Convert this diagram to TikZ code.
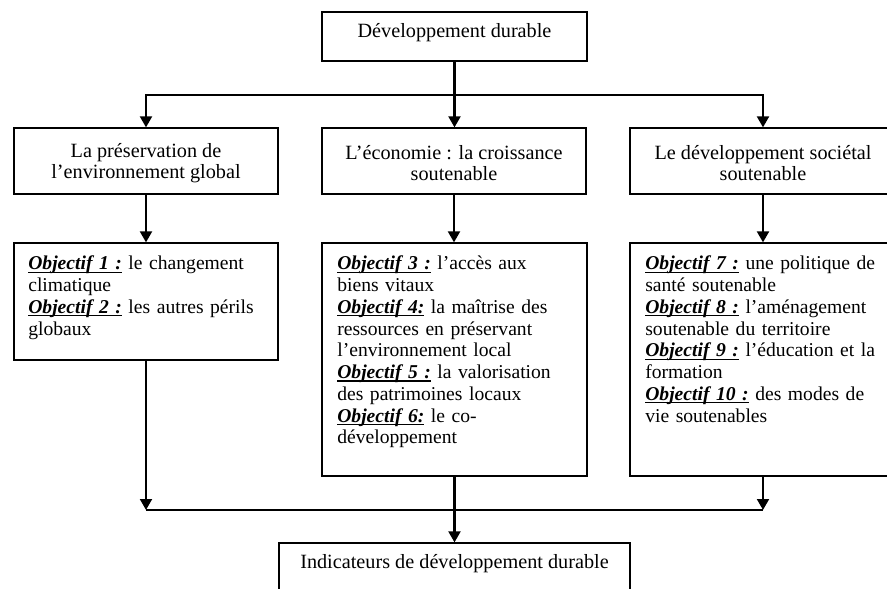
\documentclass[tikz,border=0pt]{standalone}
\usepackage{fontspec}
\setmainfont{Liberation Serif}
\usetikzlibrary{arrows.meta,fit}
\newcommand{\objl}[1]{\leavevmode{\setbox0\hbox{\textbf{\textit{#1}}}\rlap{\rule[-1.9pt]{\wd0}{0.85pt}}\box0}}
\begin{document}
\begin{tikzpicture}[x=0.6375pt,y=-0.6375pt,
  box/.style={draw=black,line width=0.75pt,inner sep=0pt,rectangle},
  txt/.style={font=\fontsize{12.9}{13.6}\selectfont,inner sep=0pt},
  headtxt/.style={txt,align=center},
  objtxt/.style={font=\fontsize{12.5}{13.85}\selectfont,inner sep=0pt,align=left,anchor=base west,text width=200pt},
  link/.style={line width=1.6pt,line cap=rect},
  arr/.style={line width=1.6pt,-{Triangle[width=7.5pt,length=7pt]}},
  thinlink/.style={line width=0.85pt}]
\useasboundingbox (0,0) rectangle (887,589);
\clip (0,0) rectangle (887,589);

% boxes
\node[box,fit={(322,12)(587,61)}] (top) {};
\node[box,fit={(14,128)(278,194)}] (l2) {};
\node[box,fit={(322,128)(586,194)}] (m2) {};
\node[box,fit={(630,128)(896,194)}] (r2) {};
\node[box,fit={(14,243)(278,360)}] (l3) {};
\node[box,fit={(322,243)(587,476)}] (m3) {};
\node[box,fit={(630,243)(896,476)}] (r3) {};
\node[box,fit={(279,543)(630,610)}] (bot) {};

% texts
\node[txt] (toptxt) at (454.5,32.5) {Développement durable};
\node[headtxt] (l2txt) at (146,163) {La préservation de\\l’environnement global};
\node[headtxt] (m2txt) at (454,163) {L’économie : la croissance\\soutenable};
\node[headtxt] (r2txt) at (763,163) {Le développement sociétal\\soutenable};

\node[objtxt] (l3txt) at (28,270) {\objl{Objectif 1 :} le changement\\climatique\\\objl{Objectif 2 :} les autres périls\\globaux};
\node[objtxt] (m3txt) at (337,270) {\objl{Objectif 3 :} l’accès aux\\biens vitaux\\\objl{Objectif 4:} la maîtrise des\\ressources en préservant\\l’environnement local\\\objl{Objectif 5 :} la valorisation\\des patrimoines locaux\\\objl{Objectif 6:} le co-\\développement};
\node[objtxt] (r3txt) at (645,270) {\objl{Objectif 7 :} une politique de\\santé soutenable\\\objl{Objectif 8 :} l’aménagement\\soutenable du territoire\\\objl{Objectif 9 :} l’éducation et la\\formation\\\objl{Objectif 10 :} des modes de\\vie soutenables};

\node[txt] (bottxt) at (454.5,564) {Indicateurs de développement durable};

% top connectors
\coordinate (bus1) at (454,95);
\draw[link] (top.south) -- (top.south |- bus1);
\draw[link] (l2.north |- bus1) -- (r2.north |- bus1);
\draw[arr] (top.south |- bus1) -- (top.south |- m2.north);
\draw[arr] (l2.north |- bus1) -- (l2.north);
\draw[arr] (r2.north |- bus1) -- (r2.north);

% middle connectors
\draw[arr] (l2.south) -- (l2.south |- l3.north);
\draw[arr] (m2.south) -- (m2.south |- m3.north);
\draw[arr] (r2.south) -- (r2.south |- r3.north);

% bottom connectors
\coordinate (bus2) at (454,510);
\draw[thinlink] (l3.south |- bus2) -- (r3.south |- bus2);
\draw[arr] (l3.south) -- (l3.south |- bus2);
\draw[arr] (r3.south) -- (r3.south |- bus2);
\draw[arr] (m3.south) -- (m3.south |- bot.north);
\end{tikzpicture}
\end{document}
